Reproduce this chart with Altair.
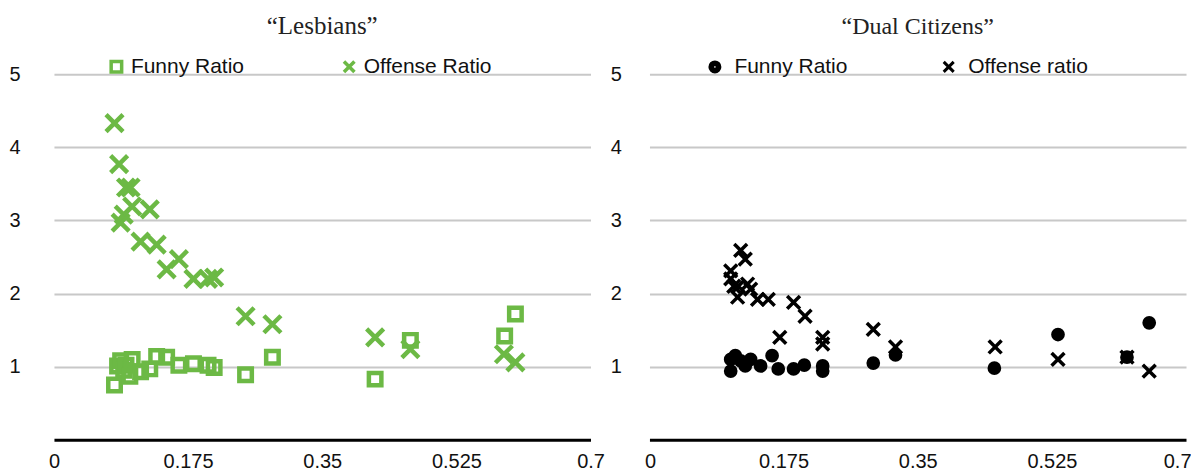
import altair as alt
import pandas as pd

GREEN = "#6cb945"
XPATH = "M-1,-1L1,1M-1,1L1,-1"
DISK = ("M1,0A1,1,0,1,1,-1,0A1,1,0,1,1,1,0"
        "M0.55,0A0.55,0.55,0,1,1,-0.55,0A0.55,0.55,0,1,1,0.55,0"
        "M0.15,0A0.15,0.15,0,1,1,-0.15,0A0.15,0.15,0,1,1,0.15,0Z")

x_ticks = [0, 0.175, 0.35, 0.525, 0.7]
y_ticks = [1, 2, 3, 4, 5]

les_names = ["Funny Ratio", "Offense Ratio"]
les_funny_x = [0.079, 0.083, 0.087, 0.091, 0.094, 0.099, 0.102, 0.113, 0.125, 0.134, 0.147,
               0.163, 0.182, 0.201, 0.209, 0.250, 0.285, 0.419, 0.465, 0.588, 0.602]
les_funny_y = [0.75, 1.01, 1.08, 0.95, 1.02, 0.87, 1.10, 0.93, 0.97, 1.14, 1.13,
               1.02, 1.04, 1.02, 0.99, 0.89, 1.13, 0.83, 1.36, 1.42, 1.72]
les_off_x = [0.079, 0.085, 0.087, 0.091, 0.094, 0.100, 0.102, 0.113, 0.125, 0.134, 0.147,
             0.163, 0.182, 0.201, 0.209, 0.250, 0.285, 0.419, 0.465, 0.587, 0.602]
les_off_y = [4.33, 3.77, 2.97, 3.08, 3.45, 3.45, 3.19, 2.71, 3.15, 2.67, 2.33,
             2.47, 2.20, 2.20, 2.22, 1.69, 1.58, 1.40, 1.24, 1.17, 1.06]

dual_names = ["Funny Ratio", "Offense ratio"]
dual_funny_x = [0.106, 0.106, 0.112, 0.119, 0.125, 0.132, 0.145, 0.160, 0.168, 0.188,
                0.202, 0.226, 0.226, 0.292, 0.321, 0.450, 0.533, 0.623, 0.652]
dual_funny_y = [0.94, 1.10, 1.15, 1.08, 1.01, 1.10, 1.01, 1.15, 0.97, 0.97,
                1.02, 1.01, 0.94, 1.05, 1.16, 0.98, 1.44, 1.13, 1.60]
dual_off_x = [0.106, 0.106, 0.110, 0.115, 0.116, 0.119, 0.125, 0.128, 0.132, 0.141, 0.155,
              0.170, 0.188, 0.203, 0.226, 0.226, 0.292, 0.321, 0.451, 0.533, 0.623, 0.652]
dual_off_y = [2.31, 2.20, 2.10, 1.95, 2.10, 2.59, 2.47, 2.13, 2.06, 1.92, 1.92,
              1.40, 1.88, 1.69, 1.40, 1.31, 1.51, 1.27, 1.27, 1.10, 1.13, 0.94]


def frame(fx, fy, ox, oy, names):
    return pd.DataFrame({
        "x": fx + ox,
        "y": fy + oy,
        "series": [names[0]] * len(fx) + [names[1]] * len(ox),
    })


def panel(df, title, names, shapes, sizes, color, fills, order, stroke_w, y_pad,
          legend_x, col_pad, label_off, sym_size, sym_sw, flush, title_size):
    xaxis = alt.Axis(values=x_ticks, labelExpr="toString(datum.value)", title=None,
                     grid=False, ticks=False, domain=True, domainColor="#000", domainWidth=3,
                     labelFont="Liberation Sans", labelFontSize=20, labelColor="#111",
                     labelPadding=12, labelFlush=flush, labelFlushOffset=5)
    yaxis = alt.Axis(values=y_ticks, title=None, grid=True, gridColor="#c8c8c8", gridWidth=2,
                     ticks=False, domain=False, labelFont="Liberation Sans", labelFontSize=20,
                     labelColor="#111", labelPadding=y_pad)
    leg = alt.Legend(title=None, orient="none", legendX=legend_x, legendY=-18,
                     direction="horizontal", columns=2, columnPadding=col_pad,
                     labelFont="Liberation Sans", labelFontSize=21, labelColor="#111",
                     labelOffset=label_off, symbolSize=sym_size, symbolStrokeWidth=sym_sw,
                     symbolStrokeColor=color, padding=0)
    base = alt.Chart(df).encode(
        x=alt.X("x:Q", scale=alt.Scale(domain=[0, 0.7], nice=False, zero=False), axis=xaxis),
        y=alt.Y("y:Q", scale=alt.Scale(domain=[0, 5], nice=False), axis=yaxis),
        color=alt.value(color),
        shape=alt.Shape("series:N", scale=alt.Scale(domain=names, range=shapes), legend=leg),
    )
    layers = []
    for i in order:
        name, sz, fl = names[i], sizes[i], fills[i]
        if fl:
            m = base.mark_point(filled=False, fill=fl, stroke=color, strokeWidth=stroke_w,
                                opacity=1, size=sz)
        else:
            m = base.mark_point(filled=False, stroke=color, strokeWidth=stroke_w,
                                opacity=1, size=sz)
        layers.append(m.transform_filter(alt.datum.series == name))
    return alt.layer(*layers).properties(
        width=537, height=366,
        title=alt.TitleParams(text=title, font="Liberation Serif", fontSize=title_size,
                              fontWeight="normal", color="#222", anchor="middle", offset=17),
    )


left = panel(frame(les_funny_x, les_funny_y, les_off_x, les_off_y, les_names),
             "\u201cLesbians\u201d", les_names, ["square", XPATH], [156, 289], GREEN,
             [None, None], [0, 1], 4.5, 34, 52, 92, 4, 110, 3.5, False, 25)
right = panel(frame(dual_funny_x, dual_funny_y, dual_off_x, dual_off_y, dual_names),
              "\u201cDual Citizens\u201d", dual_names, [DISK, XPATH], [105, 165], "#000",
              ["#000", None], [1, 0], 3.5, 28, 55, 89, 9, 100, 3, True, 24)

chart = alt.hconcat(left, right, spacing=59, bounds="flush").resolve_scale(
    shape="independent"
).resolve_legend(shape="independent").properties(
    padding={"left": 0, "top": 6, "right": 0, "bottom": 0}, background="white"
).configure_view(strokeWidth=0)

chart.save("out.html", embed_options={"renderer": "svg", "actions": False})
